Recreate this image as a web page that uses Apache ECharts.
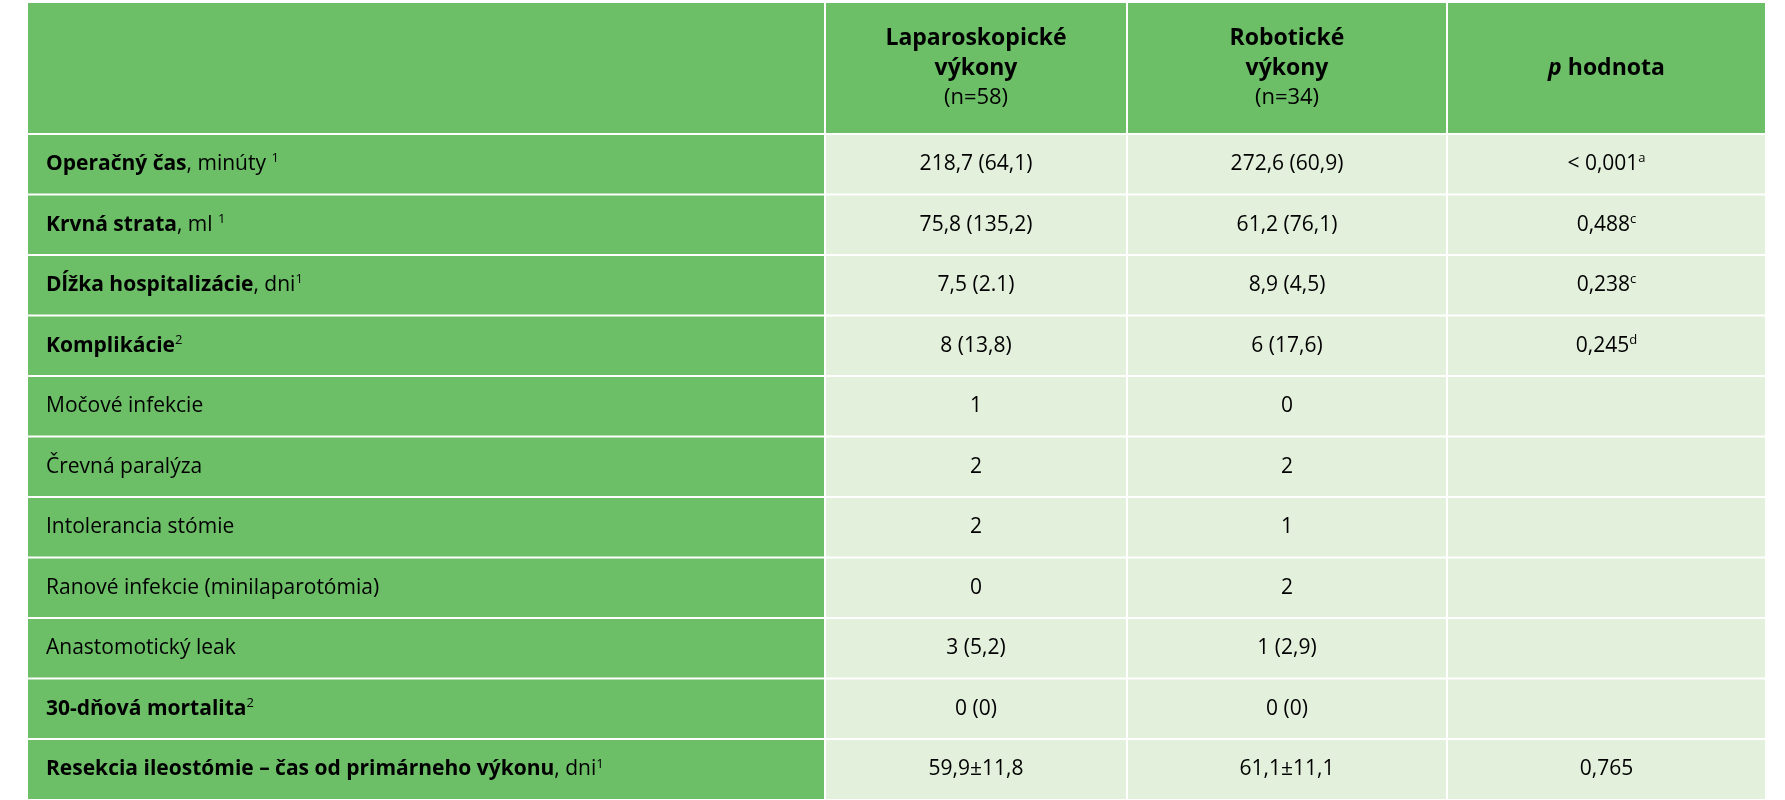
<!DOCTYPE html>
<html><head><meta charset="utf-8">
<script src="https://cdn.jsdelivr.net/npm/echarts@6/dist/echarts.min.js"></script>
<style>html,body{margin:0;padding:0;background:#fff}#c{width:1785px;height:800px}</style>
</head><body><div id="c"></div>
<script>
// Table content
const headers = [
  '',
  '{hb|Laparoskopické}\n{hb|výkony}\n{hn|(n=58)}',
  '{hb|Robotické}\n{hb|výkony}\n{hn|(n=34)}',
  '{hi|p}{hb| hodnota}'
];
const rowBold = ['Operačný čas', 'Krvná strata', 'Dĺžka hospitalizácie', 'Komplikácie', '', '', '', '', '', '30-dňová mortalita', 'Resekcia ileostómie – čas od primárneho výkonu'];
const rowRest = [', minúty ', ', ml ', ', dni', '', 'Močové infekcie', 'Črevná paralýza', 'Intolerancia stómie', 'Ranové infekcie (minilaparotómia)', 'Anastomotický leak', '', ', dni'];
const rowSup = ['1', '1', '1', '2', '', '', '', '', '', '2', '1'];
const lapValues = ['218,7 (64,1)', '75,8 (135,2)', '7,5 (2.1)', '8 (13,8)', '1', '2', '2', '0', '3 (5,2)', '0 (0)', '59,9±11,8'];
const robValues = ['272,6 (60,9)', '61,2 (76,1)', '8,9 (4,5)', '6 (17,6)', '0', '2', '1', '2', '1 (2,9)', '0 (0)', '61,1±11,1'];
const pValues = ['< 0,001', '0,488', '0,238', '0,245', '', '', '', '', '', '', '0,765'];
const pSup = ['a', 'c', 'c', 'd', '', '', '', '', '', '', ''];

// layout grid (axis units)
const colEdges = [28, 825, 1127, 1447, 1765];
const rowEdges = [2, 134, 194.5, 255, 315.5, 376, 436.5, 497, 557.5, 618, 678.5, 739, 800];

const cells = [];
for (let c = 0; c < 4; c++) cells.push([c, 0, headers[c]]);
for (let r = 0; r < rowBold.length; r++) {
  let t = '';
  if (rowBold[r]) t += '{b|' + rowBold[r] + '}';
  if (rowRest[r]) t += '{w|' + rowRest[r] + '}';
  if (rowSup[r]) t += '{ws|' + rowSup[r] + '}';
  cells.push([0, r + 1, t]);
  cells.push([1, r + 1, '{d|' + lapValues[r] + '}']);
  cells.push([2, r + 1, '{d|' + robValues[r] + '}']);
  cells.push([3, r + 1, pValues[r] ? '{d|' + pValues[r] + '}' + (pSup[r] ? '{ds|' + pSup[r] + '}' : '') : '']);
}
const F = 'Open Sans';
const rich = {
  hb: {fontFamily: F, fontWeight: 'bold', fontSize: 23, color: '#fff', lineHeight: 30},
  hi: {fontFamily: F, fontWeight: 'bold', fontStyle: 'italic', fontSize: 23, color: '#fff', lineHeight: 30},
  hn: {fontFamily: F, fontSize: 22, color: '#fff', lineHeight: 30},
  b: {fontFamily: F, fontWeight: 'bold', fontSize: 21, color: '#fff'},
  w: {fontFamily: F, fontSize: 21, color: '#fff'},
  ws: {fontFamily: F, fontSize: 13, color: '#fff', padding: [0, 0, 11, 0]},
  d: {fontFamily: F, fontSize: 21, color: '#333'},
  ds: {fontFamily: F, fontSize: 13, color: '#333', padding: [0, 0, 11, 0]}
};

const chart = echarts.init(document.getElementById('c'));
chart.setOption({
  animation: false,
  grid: {left: 0, right: 0, top: 0, bottom: 0},
  xAxis: {type: 'value', min: 0, max: 1785, show: false},
  yAxis: {type: 'value', min: 0, max: 800, inverse: true, show: false},
  series: [{
    type: 'custom',
    data: cells,
    renderItem: function (params, api) {
      const c = api.value(0), r = api.value(1);
      const txt = cells[params.dataIndex][2];
      const p0 = api.coord([colEdges[c], rowEdges[r]]);
      const p1 = api.coord([colEdges[c + 1], rowEdges[r + 1]]);
      const green = (r === 0 || c === 0);
      const x = p0[0] + (c === 0 ? 0 : 1), w = p1[0] - x - (c === 3 ? 0 : 1);
      const y = p0[1] + 1, h = p1[1] - p0[1] - 2;
      return {
        type: 'group',
        children: [
          {type: 'rect', shape: {x: x, y: y, width: w, height: h},
           style: {fill: green ? '#6cbf67' : '#e3f0dc'}},
          {type: 'text', x: c === 0 ? x + 18 : x + w / 2, y: y + h / 2,
           style: {text: txt, rich: rich, align: c === 0 ? 'left' : 'center', verticalAlign: 'middle'}}
        ]
      };
    }
  }]
});
</script></body></html>
